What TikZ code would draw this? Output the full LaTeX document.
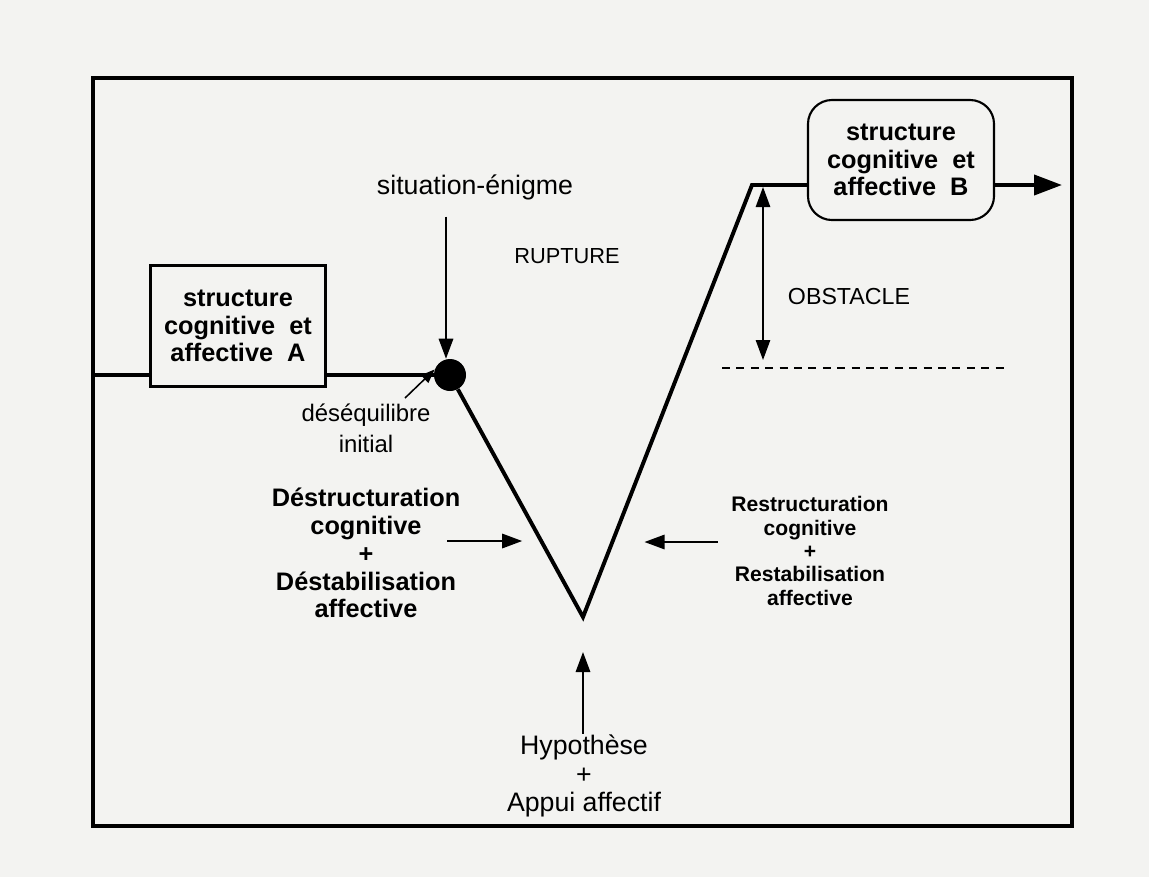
\documentclass[tikz,border=0pt]{standalone}
\usepackage{fontspec}
\setmainfont{Liberation Sans}
\usetikzlibrary{arrows.meta}
\definecolor{papier}{RGB}{243,243,241}

\begin{document}
\begin{tikzpicture}[x=0.025cm,y=-0.025cm,
    kasten/.style={draw,line width=1.5pt,align=center,font=\fontsize{18}{19.5}\selectfont\bfseries},
    pfeil/.style={line width=1.3pt,-{Triangle[length=5mm,width=3.6mm]}},
    linie/.style={line width=2.8pt}]
    % Hintergrund und Rahmen:
    \fill[papier] (0,0) rectangle (1149,877);
    \draw[line width=2.2pt] (93,78) rectangle (1072,826);
    % Kaesten:
    \node[kasten,minimum width=4.375cm,minimum height=3.025cm,text depth=-0.1cm] (strA) at (238,326)
        {structure\\cognitive\ \ et\\affective\ \ A};
    \node[kasten,rounded corners=0.6cm,minimum width=4.65cm,minimum height=3cm] (strB) at (901,160)
        {structure\\cognitive\ \ et\\affective\ \ B};
    \node[circle,fill,minimum size=0.8cm,inner sep=0pt] (dot) at (450,375) {};
    % Punkte:
    \coordinate (links) at (93,375);
    \coordinate (vbot) at (583,617);
    \coordinate (vtop) at (752,185);
    \coordinate (ende) at (1062,185);
    \coordinate (zeiger) at (405,398);
    \coordinate (obsoben) at (763,187);
    \coordinate (obsunten) at (763,360);
    \coordinate (strich1) at (722,368);
    \coordinate (strich2) at (1005,368);
    % Texte:
    \node[font=\fontsize{19}{21}\selectfont] (enigme) at (475,187) {situation-énigme};
    \node[font=\fontsize{15.5}{17}\selectfont] (rupture) at (567,256) {RUPTURE};
    \node[font=\fontsize{16.5}{18}\selectfont] (obstacle) at (849,297) {OBSTACLE};
    \node[align=center,font=\fontsize{17}{22}\selectfont] (deseq) at (366,428) {déséquilibre\\initial};
    \node[align=center,font=\fontsize{18}{19.8}\selectfont\bfseries] (destr) at (366,553)
        {Déstructuration\\cognitive\\+\\Déstabilisation\\affective};
    \node[align=center,font=\fontsize{15}{16.6}\selectfont\bfseries] (restr) at (810,551)
        {Restructuration\\cognitive\\+\\Restabilisation\\affective};
    \node[align=center,font=\fontsize{19}{20.5}\selectfont] (hypo) at (584,776)
        {Hypothèse\\+\\Appui affectif};
    % Hauptlinie:
    \draw[linie] (links) -- (strA.west |- links);
    \draw[linie] (strA.east |- dot) -- (dot);
    \draw[linie,line join=miter] (dot) -- (vbot) -- (vtop) -- (strB.west |- vtop);
    \draw[line width=2.8pt,-{Triangle[length=7mm,width=5mm]}] (strB.east |- ende) -- (ende);
    % Pfeile:
    \draw[pfeil] (enigme.south -| dot) ++(-4,12) -- (dot.north -| 446,0);
    \draw[line width=1.1pt,-{Triangle[length=3.5mm,width=2.6mm]}] (zeiger) -- (dot.160);
    \draw[pfeil] (destr.east) ++(-18,-12) -- ++(75,0);
    \draw[pfeil] (restr.west) ++(-9,-9) -- ++(-73,0);
    \draw[pfeil] (hypo.north -| vbot) ++(0,4) -- (vbot |- 0,652);
    \draw[line width=1.1pt,{Triangle[length=5mm,width=3.6mm]}-{Triangle[length=5mm,width=3.6mm]}] (obsoben) -- (obsunten);
    \draw[line width=1.1pt,dash pattern=on 0.2cm off 0.16cm] (strich1) -- (strich2);
\end{tikzpicture}
\end{document}
